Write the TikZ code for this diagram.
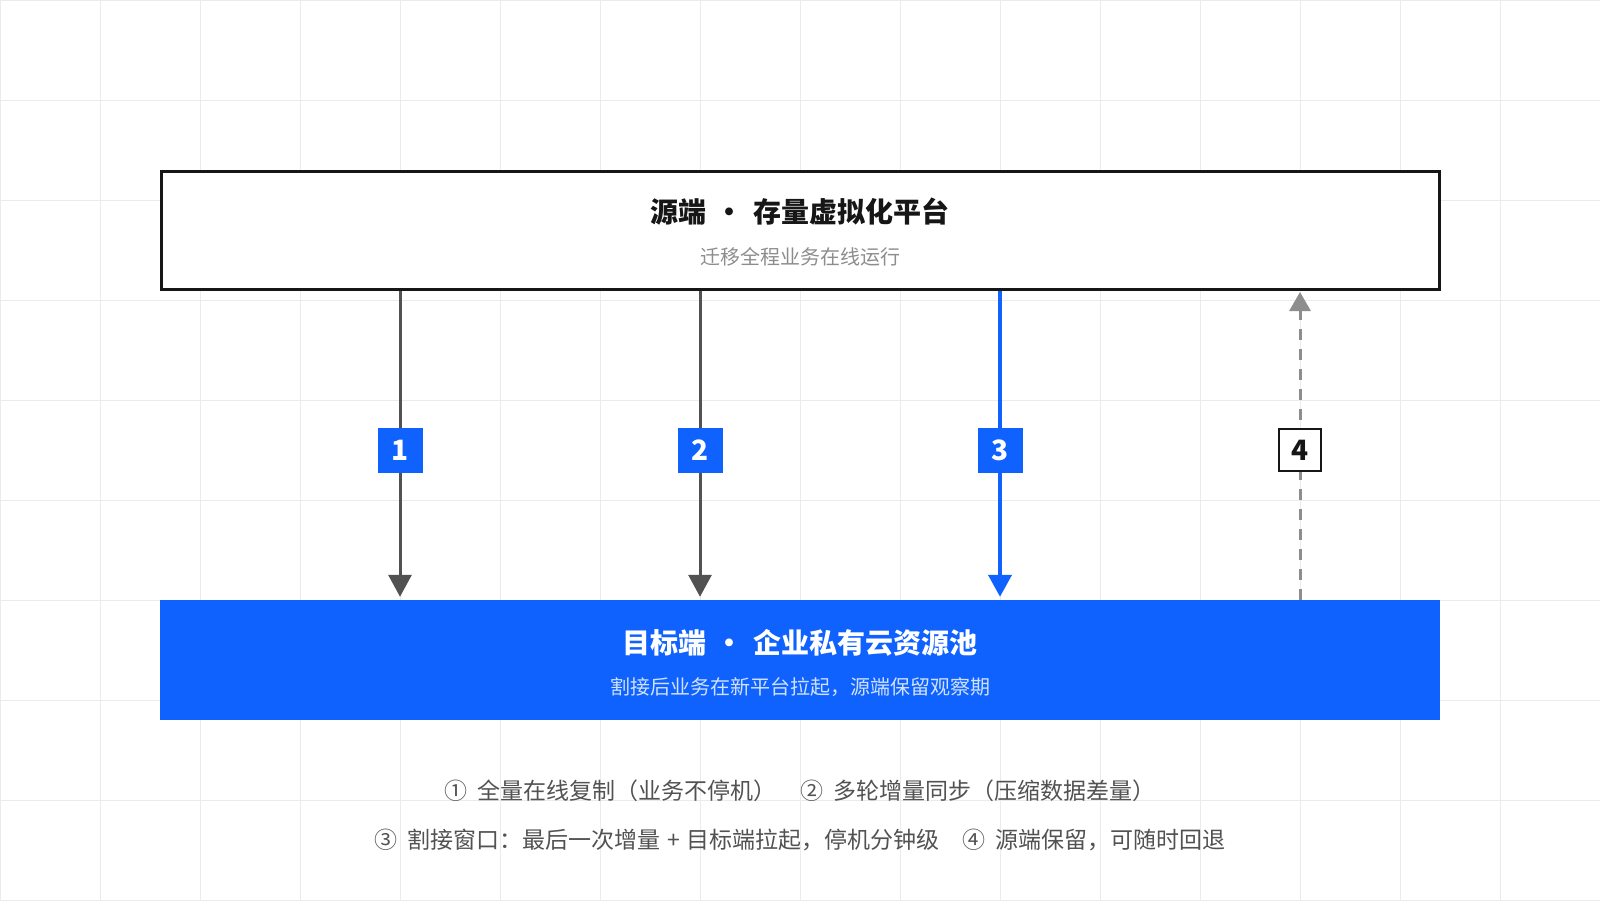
\documentclass[tikz,border=0pt]{standalone}
\usepackage{fontspec}
\setmainfont{Noto Sans CJK SC}
\usetikzlibrary{arrows.meta}
\definecolor{cblue}{HTML}{0F62FE}
\definecolor{inkc}{HTML}{161616}
\definecolor{garr}{HTML}{525252}
\definecolor{darr}{HTML}{8D8D8D}
\definecolor{gridc}{HTML}{EBEBEB}
\definecolor{subg}{HTML}{8D8D8D}
\definecolor{subb}{HTML}{D0E2FF}
\definecolor{legc}{HTML}{525252}
\tikzset{
  gridline/.style={draw=gridc, line width=1pt},
  srcbox/.style={draw=inkc, line width=3pt, fill=white, minimum width=1278pt, minimum height=118pt, inner sep=0pt},
  dstbox/.style={fill=cblue, minimum width=1280pt, minimum height=120pt, inner sep=0pt},
  titletext/.style={font=\fontsize{28pt}{32pt}\selectfont\bfseries, inner sep=0pt},
  subtext/.style={font=\fontsize{20pt}{24pt}\selectfont, inner sep=0pt},
  grayarrow/.style={draw=garr, line width=3pt, -{Triangle[width=23pt,length=22pt]}},
  bluearrow/.style={draw=cblue, line width=4pt, -{Triangle[width=23pt,length=22pt]}},
  dasharrow/.style={draw=darr, line width=3pt, dash pattern=on 11pt off 9pt, -{Triangle[width=21pt,length=19pt]}},
  bluebadge/.style={fill=cblue, text=white, minimum size=45pt, inner sep=0pt, font=\fontsize{28pt}{30pt}\selectfont\bfseries},
  whitebadge/.style={fill=white, draw=inkc, line width=2.5pt, text=inkc, minimum size=42pt, inner sep=0pt, font=\fontsize{28pt}{30pt}\selectfont\bfseries},
  legendtext/.style={text=legc, font=\fontsize{23pt}{26pt}\selectfont, inner sep=0pt},
}
\begin{document}
\begin{tikzpicture}[x=1pt,y=-1pt]
\useasboundingbox (0,0) rectangle (1600,900);
\fill[white] (0,0) rectangle (1600,900);
\foreach \i in {0,100,...,1600} \draw[gridline] (\i,0) -- (\i,900);
\foreach \j in {0,100,...,900} \draw[gridline] (0,\j) -- (1600,\j);

% boxes
\node[srcbox] (src) at (800,230) {};
\node[titletext, text=inkc] (srct) at (800,212) {源端\makebox[1.7em]{·}存量虚拟化平台};
\node[subtext, text=subg] (srcs) at (800,257) {迁移全程业务在线运行};

\node[dstbox] (dst) at (800,660) {};
\node[titletext, text=white] (dstt) at (800,643) {目标端\makebox[1.7em]{·}企业私有云资源池};
\node[subtext, text=subb] (dsts) at (800,687) {割接后业务在新平台拉起，源端保留观察期};

% badge positions
\coordinate (c1) at (400,450);
\coordinate (c2) at (700,450);
\coordinate (c3) at (1000,450);
\coordinate (c4) at (1300,450);

% connectors
\draw[grayarrow, shorten >=3pt] (src.south -| c1) -- (dst.north -| c1);
\draw[grayarrow, shorten >=3pt] (src.south -| c2) -- (dst.north -| c2);
\draw[bluearrow, shorten >=3pt] (src.south -| c3) -- (dst.north -| c3);
\draw[dasharrow, shorten >=1.5pt] (dst.north -| c4) -- (src.south -| c4);

% badges
\node[bluebadge] (b1) at (c1) {1};
\node[bluebadge] (b2) at (c2) {2};
\node[bluebadge] (b3) at (c3) {3};
\node[whitebadge] (b4) at (c4) {4};

% legend
\node[legendtext] (leg1) at (800,791) {①\hspace{10pt}全量在线复制（业务不停机）\hspace{24pt}②\hspace{10pt}多轮增量同步（压缩数据差量）};
\node[legendtext] (leg2) at (800,840) {③\hspace{10pt}割接窗口：最后一次增量\hspace{7pt}+\hspace{7pt}目标端拉起，停机分钟级\hspace{23pt}④\hspace{10pt}源端保留，可随时回退};
\end{tikzpicture}
\end{document}
